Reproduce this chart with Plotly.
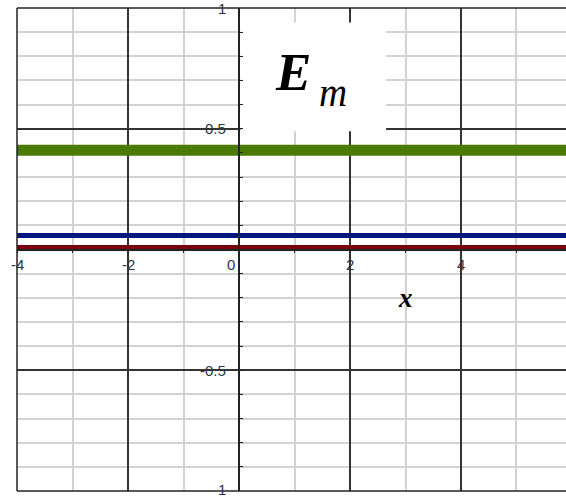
import plotly.graph_objects as go

# data
x_span = [-4, 6]
green_level = 0.411
blue_level = 0.058
red_level = 0.008

x_tick_vals = [-4, -2, 0, 2, 4]
x_tick_text = ["-4", "-2", "0", "2", "4"]
y_tick_vals = [1, 0.5, -0.5, -1]
y_tick_text = ["1", "0.5", "-0.5", "1"]

x_range = [-4, 5.892]
y_range = [-1, 1]

series = [
    (green_level, "#4b7a00", 11),
    (blue_level, "#00177f", 5),
    (red_level, "#7a0010", 5),
]

fig = go.Figure()
for level, color, width in series:
    fig.add_trace(go.Scatter(
        x=x_span, y=[level, level], mode="lines",
        line=dict(color=color, width=width), hoverinfo="skip",
    ))

yaxis_pos = (0 - x_range[0]) / (x_range[1] - x_range[0])

fig.update_xaxes(
    range=x_range, anchor="free", position=0.5, automargin=False,
    showline=True, linecolor="#222", linewidth=1.5,
    showgrid=True, gridcolor="#333", gridwidth=1.5,
    tick0=-4, dtick=2, ticks="outside", ticklen=3, tickcolor="#222",
    minor=dict(dtick=1, tick0=-4, showgrid=True, gridcolor="#d2d2d2", gridwidth=2,
               ticks="outside", ticklen=3, tickcolor="#222"),
    showticklabels=False, zeroline=False,
)
fig.update_yaxes(
    range=y_range, anchor="free", position=yaxis_pos, automargin=False,
    showline=True, linecolor="#222", linewidth=1.5,
    showgrid=True, gridcolor="#333", gridwidth=1.5,
    tick0=-1, dtick=0.5, ticks="inside", ticklen=3, tickcolor="#222",
    minor=dict(dtick=0.1, tick0=-1, showgrid=True, gridcolor="#d2d2d2", gridwidth=2,
               ticks="inside", ticklen=3, tickcolor="#222"),
    showticklabels=False, zeroline=False,
)

tick_font = dict(family="Liberation Sans", size=15, color="#2e3448")
annotations = []
for v, t in zip(x_tick_vals, x_tick_text):
    annotations.append(dict(x=v, y=0, text=t, showarrow=False, font=tick_font,
                            xanchor="center", yanchor="middle", yshift=-15,
                            xshift=-8 if v == 0 else 0))
for v, t in zip(y_tick_vals, y_tick_text):
    annotations.append(dict(x=0, y=v, text=t, showarrow=False, font=tick_font,
                            xanchor="right", yanchor="middle", xshift=-11,
                            yshift=2 if v == -1 else 0))

# axis name and the E_m label (letter and subscript placed separately)
annotations.append(dict(x=3.0, y=-0.2, text="<b><i>x</i></b>", showarrow=False,
                        font=dict(family="Liberation Serif", size=27, color="black")))
annotations.append(dict(x=0.97, y=0.735, text="<b><i>E</i></b>", showarrow=False,
                        font=dict(family="Liberation Serif", size=53, color="black")))
annotations.append(dict(x=1.69, y=0.65, text="<i>m</i>", showarrow=False,
                        font=dict(family="Liberation Serif", size=39, color="black")))

fig.add_shape(type="rect", x0=0.03, x1=2.65, y0=0.49, y1=0.94,
              fillcolor="white", line=dict(width=0), layer="between")

# outer frame on the left, top and bottom
border = dict(color="#222", width=1.5)
fig.add_shape(type="line", xref="paper", yref="paper", x0=0, x1=0, y0=0, y1=1, line=border)
fig.add_shape(type="line", xref="paper", yref="paper", x0=0, x1=1, y0=1, y1=1, line=border)
fig.add_shape(type="line", xref="paper", yref="paper", x0=0, x1=1, y0=0, y1=0, line=border)

fig.update_layout(
    width=566, height=498,
    margin=dict(l=17, r=0, t=8, b=7),
    plot_bgcolor="white", paper_bgcolor="white",
    showlegend=False, annotations=annotations,
)

fig.write_html("out.html", config={"displayModeBar": False},
               post_script="document.body.style.margin='0';")
